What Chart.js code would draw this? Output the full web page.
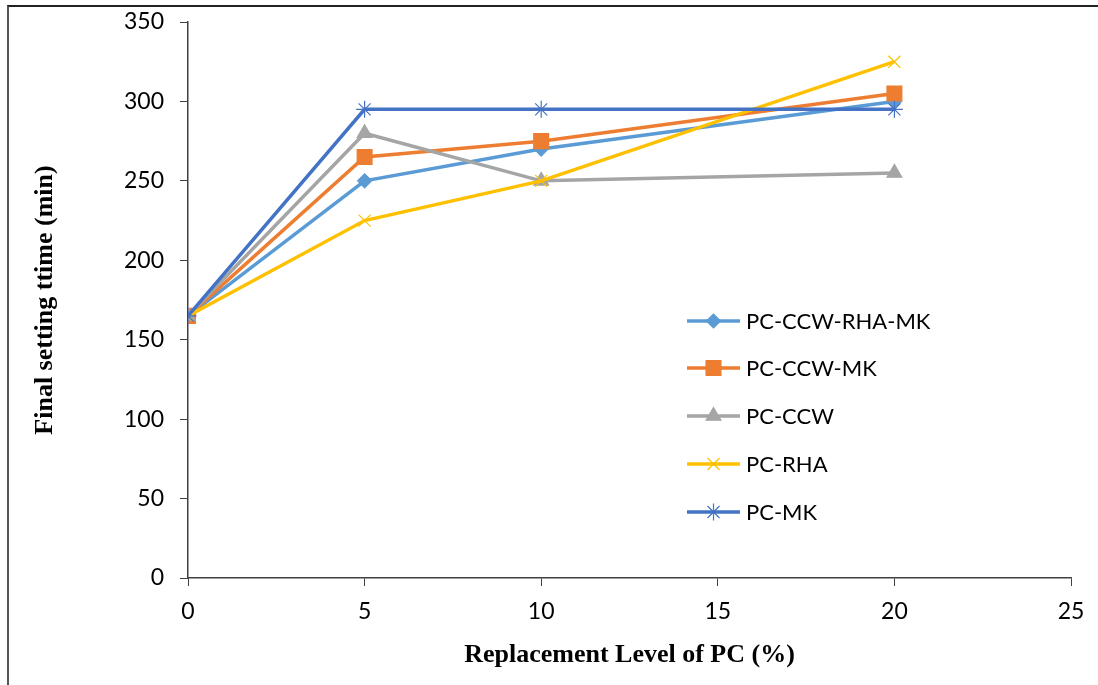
<!DOCTYPE html>
<html>
<head>
<meta charset="utf-8">
<script src="https://cdn.jsdelivr.net/npm/chart.js@4.4.1/dist/chart.umd.min.js"></script>
<style>
  html, body { margin: 0; padding: 0; background: #fff; }
  #frame {
    position: absolute; left: 7px; top: 5px; width: 1091px; height: 680px;
    border-top: 2px solid #222; border-left: 2px solid #555;
  }
  #wrap { position: absolute; left: 0; top: 0; width: 1098px; height: 685px; }
</style>
</head>
<body>
<div id="frame"></div>
<div id="wrap"><canvas id="chart" width="1098" height="685"></canvas></div>
<script>
// --- data -----------------------------------------------------------
const levels = [0, 5, 10, 20];
const seriesNames = ['PC-CCW-RHA-MK', 'PC-CCW-MK', 'PC-CCW', 'PC-RHA', 'PC-MK'];
const ccwRhaMk = [165, 250, 270, 300];
const ccwMk    = [165, 265, 275, 305];
const ccw      = [165, 280, 250, 255];
const rha      = [165, 225, 250, 325];
const mk       = [165, 295, 295, 295];
const xTicks = [0, 5, 10, 15, 20, 25];
const yTicks = [0, 50, 100, 150, 200, 250, 300, 350];

const seriesValues = [ccwRhaMk, ccwMk, ccw, rha, mk];
const colors = ['#5B9BD5', '#ED7D31', '#A5A5A5', '#FFC000', '#4472C4'];
const markers = [
  { style: 'rectRot', radius: 7 },
  { style: 'rect', radius: 10.5 },
  { style: 'triangle', radius: 8.5 },
  { style: 'crossRot', radius: 8.5 },
  { style: 'star', radius: 8.5 },
];

const datasets = seriesNames.map((name, i) => ({
  label: name,
  data: levels.map((x, j) => ({ x, y: seriesValues[i][j] })),
  borderColor: colors[i],
  backgroundColor: colors[i],
  borderWidth: 3.5,
  pointStyle: markers[i].style,
  pointRadius: markers[i].radius,
  pointBorderWidth: 1.2,
  pointBackgroundColor: colors[i],
  pointBorderColor: colors[i],
  tension: 0,
  fill: false,
  order: seriesNames.length - i,   // later series on top, as in Excel
}));

// --- legend drawn inside the plot area -----------------------------
const insideLegend = {
  id: 'insideLegend',
  afterDatasetsDraw(chart) {
    const ctx = chart.ctx;
    const x0 = 687, x1 = 740, tx = 746;
    const rows = [321, 368, 416, 464, 512];
    ctx.save();
    chart.data.datasets.forEach((ds, i) => {
      const y = rows[i];
      ctx.strokeStyle = ds.borderColor;
      ctx.lineWidth = 3.5;
      ctx.beginPath();
      ctx.moveTo(x0, y);
      ctx.lineTo(x1, y);
      ctx.stroke();
      ctx.fillStyle = ds.borderColor;
      ctx.lineWidth = 1.2;
      Chart.helpers.drawPoint(ctx, {
        pointStyle: ds.pointStyle, radius: ds.pointRadius, rotation: 0, borderWidth: 1.2
      }, (x0 + x1) / 2, y);
      ctx.fillStyle = '#000';
      ctx.font = '22px Lato';
      ctx.textBaseline = 'middle';
      ctx.textAlign = 'left';
      ctx.fillText(ds.label, tx, y + 1);
    });
    ctx.restore();
  }
};

const tickFont = { family: 'Lato', size: 23 };
const titleFont = { family: 'Liberation Serif', size: 26, weight: 'bold' };

new Chart(document.getElementById('chart'), {
  type: 'line',
  data: { datasets },
  options: {
    responsive: false,
    animation: false,
    layout: { padding: { top: 22, right: 27, left: 0, bottom: 0 } },
    plugins: {
      legend: { display: false },
      tooltip: { enabled: false },
    },
    scales: {
      x: {
        type: 'linear',
        min: 0, max: 25,
        afterBuildTicks: s => { s.ticks = xTicks.map(v => ({ value: v })); },
        afterFit: s => { s.height = 107; },
        border: { color: '#404040', width: 1.5 },
        grid: { drawOnChartArea: false, drawTicks: true, tickLength: 8, color: '#404040', lineWidth: 1 },
        ticks: { color: '#000', font: tickFont, padding: 12, maxRotation: 0 },
        title: { display: true, text: 'Replacement Level of PC (%)', color: '#000', font: titleFont, padding: { top: 4, bottom: 14 } },
      },
      y: {
        min: 0, max: 350,
        afterBuildTicks: s => { s.ticks = yTicks.map(v => ({ value: v })); },
        afterFit: s => { s.width = 188; s.paddingTop = 0; s.paddingBottom = 0; },
        border: { color: '#404040', width: 1.5 },
        grid: { drawOnChartArea: false, drawTicks: true, tickLength: 8, color: '#404040', lineWidth: 1 },
        ticks: { color: '#000', font: tickFont, padding: 16 },
        title: { display: true, text: 'Final setting ttime (min)', color: '#000', font: titleFont, padding: { top: 30, bottom: 4 } },
      },
    },
  },
  plugins: [insideLegend],
});
</script>
</body>
</html>
